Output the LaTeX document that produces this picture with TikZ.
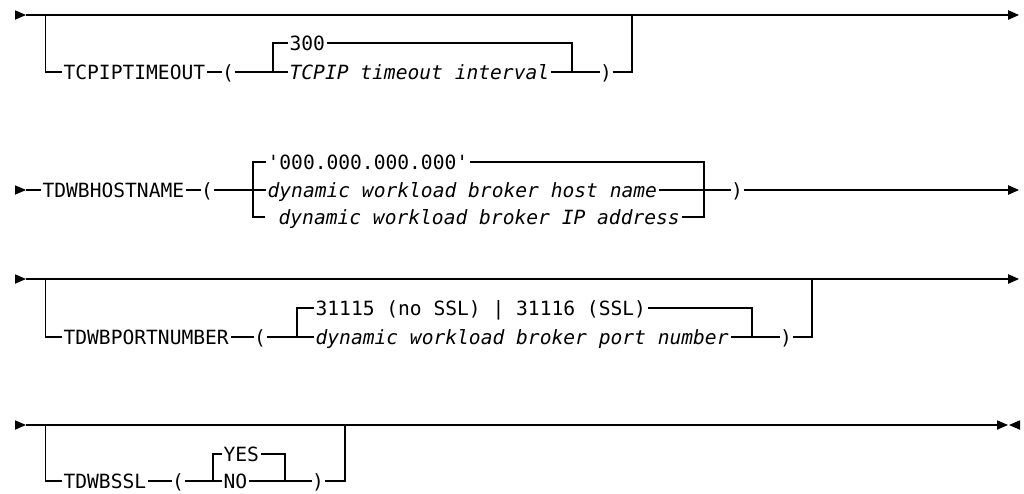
\documentclass[tikz,border=0pt]{standalone}
\usepackage{fontspec}
\usetikzlibrary{arrows.meta}
\newfontfamily\rrfont{DejaVu Sans Mono}[Ligatures=TeXOff]
\newcommand\rrsize{\fontsize{19.6pt}{20pt}\selectfont}
\begin{document}
\begin{tikzpicture}[x=1pt,y=-1pt,line width=1.2pt,line join=miter,
  kw/.style={anchor=base west,inner xsep=1.5pt,inner ysep=0pt,font=\rrfont\rrsize},
  var/.style={kw,font=\rrfont\rrsize\itshape},
  pn/.style={anchor=base,inner sep=0pt,font=\rrfont\rrsize},
  endtip/.style={-{Triangle[length=11pt,width=9.5pt]}}]
\useasboundingbox (0,0) rectangle (1024,493);
\newcommand\starttri[1]{\fill (#1) ++(0,-4.75) -- ++(11,4.75) -- ++(-11,4.75) -- cycle;}

% ---------------- row 1
\coordinate (s1) at (15,15);
\coordinate (s1b) at (26,15);
\coordinate (e1) at (1019,15);
\coordinate (b1) at (45.5,15);
\coordinate (L1) at (0,72);
\coordinate (U1) at (0,43);
\node[kw] (k1) at (61.5,79) {TCPIPTIMEOUT};
\node[pn] (p1) at (228,79) {(};
\coordinate (j1a) at (273,72);
\node[kw] (o1) at (287.5,50) {300};
\node[var] (v1) at (287.5,79) {TCPIP timeout interval};
\coordinate (j1b) at (572,72);
\node[pn] (q1) at (606,79) {)};
\coordinate (r1) at (632,15);
\starttri{s1}
\draw[endtip] (s1b) -- (e1);
\draw (b1) |- (k1.west |- L1);
\draw (k1.east |- L1) -- (p1.west |- L1);
\draw (p1.east |- L1) -- (v1.west |- L1);
\draw (j1a) |- (o1.west |- U1);
\draw (o1.east |- U1) -| (j1b);
\draw (v1.east |- L1) -- (q1.west |- L1);
\draw (q1.east |- L1) -| (r1);

% ---------------- row 2
\coordinate (s2) at (15,190);
\coordinate (s2b) at (26,190);
\coordinate (e2) at (1019,190);
\coordinate (M2) at (0,190);
\coordinate (U2) at (0,162);
\coordinate (L2) at (0,217);
\node[kw] (k2) at (40.5,197) {TDWBHOSTNAME};
\node[pn] (p2) at (207,197) {(};
\coordinate (j2a) at (253,190);
\node[kw] (o2) at (265.5,169) {\char"27 000.000.000.000\char"27};
\node[var] (v2) at (265.5,197) {dynamic workload broker host name};
\node[var] (w2) at (276.5,224) {dynamic workload broker IP address};
\coordinate (c2) at (265,217);
\coordinate (j2b) at (704,190);
\node[pn] (q2) at (737,197) {)};
\starttri{s2}
\draw (s2b) -- (k2.west |- M2);
\draw (k2.east |- M2) -- (p2.west |- M2);
\draw (p2.east |- M2) -- (v2.west |- M2);
\draw (o2.west |- U2) -| (j2a |- L2) -- (c2);
\draw (o2.east |- U2) -| (j2b |- L2) -- (w2.east |- L2);
\draw (v2.east |- M2) -- (q2.west |- M2);
\draw[endtip] (q2.east |- M2) -- (e2);

% ---------------- row 3
\coordinate (s3) at (15,279);
\coordinate (s3b) at (26,279);
\coordinate (e3) at (1019,279);
\coordinate (b3) at (45.5,279);
\coordinate (U3) at (0,308);
\coordinate (L3) at (0,337);
\node[kw] (k3) at (61.5,344) {TDWBPORTNUMBER};
\node[pn] (p3) at (260,344) {(};
\coordinate (j3a) at (297,337);
\node[kw] (o3) at (313.5,315) {31115 (no SSL) | 31116 (SSL)};
\node[var] (v3) at (313.5,344) {dynamic workload broker port number};
\coordinate (j3b) at (752,337);
\node[pn] (q3) at (786,344) {)};
\coordinate (r3) at (812,279);
\starttri{s3}
\draw[endtip] (s3b) -- (e3);
\draw (b3) |- (k3.west |- L3);
\draw (k3.east |- L3) -- (p3.west |- L3);
\draw (p3.east |- L3) -- (v3.west |- L3);
\draw (j3a) |- (o3.west |- U3);
\draw (o3.east |- U3) -| (j3b);
\draw (v3.east |- L3) -- (q3.west |- L3);
\draw (q3.east |- L3) -| (r3);

% ---------------- row 4
\coordinate (s4) at (15,425);
\coordinate (s4b) at (26,425);
\coordinate (e4) at (997,425);
\coordinate (b4) at (45.5,425);
\coordinate (U4) at (0,454);
\coordinate (L4) at (0,481);
\node[kw] (k4) at (61.5,488) {TDWBSSL};
\node[pn] (p4) at (178,488) {(};
\coordinate (j4a) at (213,481);
\node[kw] (o4) at (221.5,461) {YES};
\node[kw] (v4) at (221.5,488) {NO};
\coordinate (j4b) at (285,481);
\node[pn] (q4) at (318,488) {)};
\coordinate (r4) at (345,425);
\starttri{s4}
\draw (s4b) -- (e4);
\fill (e4) ++(0,-4.75) -- ++(11,4.75) -- ++(-11,4.75) -- cycle;
\fill (e4) ++(23,-4.75) -- ++(-11,4.75) -- ++(11,4.75) -- cycle;
\draw (b4) |- (k4.west |- L4);
\draw (k4.east |- L4) -- (p4.west |- L4);
\draw (p4.east |- L4) -- (v4.west |- L4);
\draw (j4a) |- (o4.west |- U4);
\draw (o4.east |- U4) -| (j4b);
\draw (v4.east |- L4) -- (q4.west |- L4);
\draw (q4.east |- L4) -| (r4);
\end{tikzpicture}
\end{document}
